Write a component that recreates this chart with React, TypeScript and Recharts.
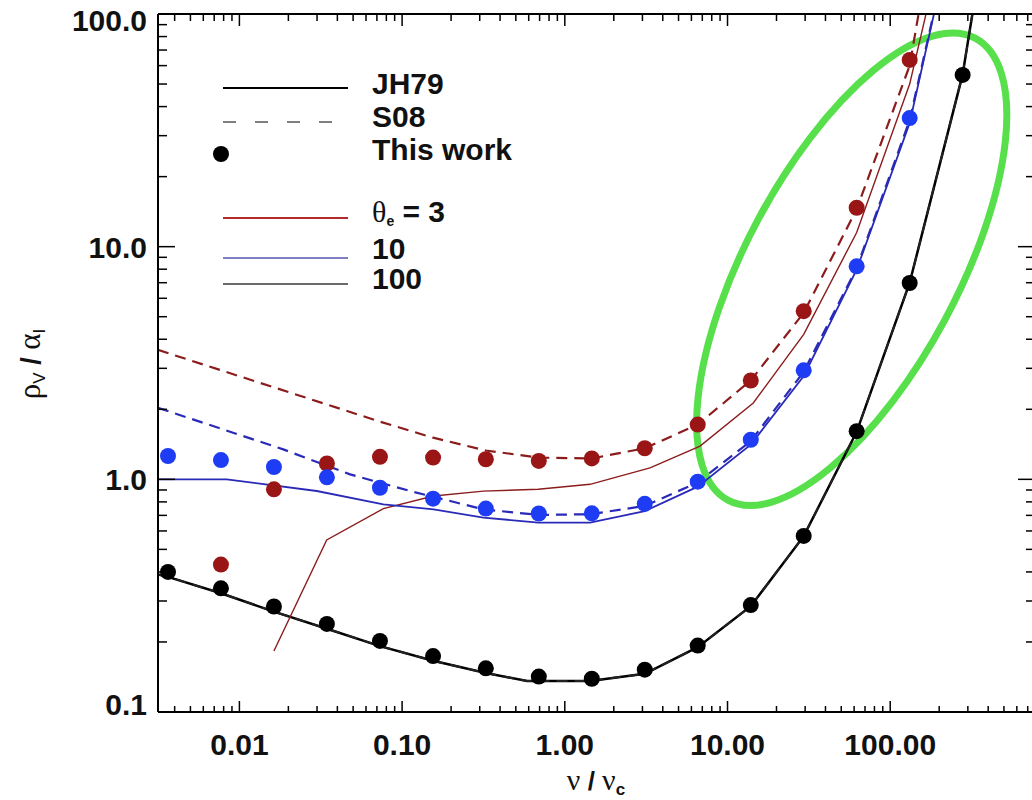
import { ComposedChart, Line, Scatter, XAxis, YAxis } from "recharts";

// axis ranges
const X_MIN = 0.00316;
const X_MAX = 776;
const Y_MIN = 0.1;
const Y_MAX = 100;

const X_MAJOR = [0.01, 0.1, 1, 10, 100];
const X_LABELS = ["0.01", "0.10", "1.00", "10.00", "100.00"];
const Y_MAJOR = [0.1, 1, 10, 100];
const Y_LABELS = ["0.1", "1.0", "10.0", "100.0"];

// "This work" points (nu / nu_c)
const NU_PTS = [0.00364, 0.0077, 0.0163, 0.0345, 0.0731, 0.155, 0.327, 0.692, 1.465, 3.1, 6.56, 13.9, 29.4, 62.2, 131.7, 278.7];
const DOTS_3 = [null, 0.43, 0.906, 1.17, 1.25, 1.24, 1.22, 1.2, 1.23, 1.36, 1.72, 2.66, 5.28, 14.7, 63.5, null];
const DOTS_10 = [1.26, 1.21, 1.13, 1.02, 0.92, 0.826, 0.749, 0.713, 0.714, 0.785, 0.977, 1.48, 2.94, 8.23, 35.7, null];
const DOTS_100 = [0.4, 0.34, 0.284, 0.239, 0.202, 0.174, 0.154, 0.142, 0.139, 0.152, 0.193, 0.288, 0.571, 1.61, 6.98, 54.7];

// JH79 / S08 curves
const JH79_3_NU = [0.0163, 0.0344, 0.0767, 0.156, 0.316, 0.687, 1.43, 3.34, 6.78, 14.4, 29.4, 62.2, 131.7, 190];
const JH79_3 = [0.183, 0.549, 0.748, 0.848, 0.89, 0.906, 0.952, 1.12, 1.39, 2.13, 4.2, 11.5, 50, 150];
const S08_3_NU = [0.00316, 0.0731, 0.155, 0.327, 0.692, 1.465, 3.1, 6.56, 13.9, 29.4, 62.2, 131.7, 165];
const S08_3 = [3.6, 1.77, 1.51, 1.33, 1.24, 1.23, 1.36, 1.72, 2.66, 5.2, 14.5, 60, 150];

const JH79_10_NU = [0.00316, 0.00836, 0.0299, 0.0767, 0.156, 0.316, 0.687, 1.43, 3.1, 6.56, 13.9, 29.4, 62.2, 131.7, 220];
const JH79_10 = [1.0, 1.0, 0.891, 0.781, 0.743, 0.685, 0.652, 0.652, 0.73, 0.93, 1.41, 2.78, 7.96, 34, 170];
const S08_10_NU = [0.00316, 0.0186, 0.0479, 0.112, 0.316, 0.687, 1.43, 3.1, 6.56, 13.9, 29.4, 62.2, 131.7, 220];
const S08_10 = [2.03, 1.345, 1.05, 0.891, 0.743, 0.703, 0.708, 0.768, 0.97, 1.46, 2.9, 8.1, 35, 172];

const JH79_100_NU = [0.00316, 0.00364, 0.0077, 0.0163, 0.0345, 0.0731, 0.155, 0.327, 0.586, 1.43, 3.1, 6.56, 13.9, 29.4, 62.2, 131.7, 278.7, 340];
const JH79_100 = [0.39, 0.381, 0.324, 0.27, 0.228, 0.192, 0.166, 0.147, 0.136, 0.136, 0.146, 0.19, 0.285, 0.57, 1.6, 7.0, 55, 130];
const S08_100 = [0.39, 0.381, 0.324, 0.27, 0.228, 0.192, 0.166, 0.147, 0.136, 0.136, 0.146, 0.19, 0.285, 0.57, 1.6, 7.0, 55, 130];

const RED = "#8b1c1c";
const RED_DOT = "#9a1616";
const BLUE = "#2a2ab8";
const BLUE_DOT = "#1d3cf4";
const GREEN = "#58e04c";
const SANS = "'Liberation Sans', Arial, Helvetica, sans-serif";
const SERIF = "'Liberation Serif', 'Times New Roman', serif";

// plot box in pixels (set by the axis sizes below)
const PLOT = { left: 158, right: 1035, top: 14, bottom: 712 };

const pts = (nu: number[], vals: (number | null)[]) =>
  nu.map((f, i) => ({ f, v: vals[i] })).filter((p) => p.v != null);

// log ticks: 1..9 per decade inside the range
const logTicks = (lo: number, hi: number) => {
  const out: number[] = [];
  for (let k = -4; k <= 3; k++)
    for (let m = 1; m <= 9; m++) {
      const v = Number((m * Math.pow(10, k)).toPrecision(6));
      if (v >= lo * 0.999 && v <= hi * 1.001) out.push(v);
    }
  return out;
};
const X_TICKS = logTicks(X_MIN, X_MAX);
const Y_TICKS = logTicks(Y_MIN, Y_MAX);

const majorIdx = (list: number[], v: number) =>
  list.findIndex((m) => Math.abs(Math.log10(m) - Math.log10(v)) < 1e-6);

const BottomTick = ({ x, y, payload }: any) => {
  const i = majorIdx(X_MAJOR, payload.value);
  return (
    <g>
      <line x1={x} y1={y} x2={x} y2={y - (i >= 0 ? 11 : 6)} stroke="#000" strokeWidth={1.5} />
      {i >= 0 && (
        <text x={x} y={y + 43} textAnchor="middle" fontFamily={SANS} fontWeight="bold" fontSize={30} fill="#111">
          {X_LABELS[i]}
        </text>
      )}
    </g>
  );
};

const TopTick = ({ x, y, payload }: any) => {
  const i = majorIdx(X_MAJOR, payload.value);
  return <line x1={x} y1={y} x2={x} y2={y + (i >= 0 ? 12 : 7)} stroke="#000" strokeWidth={1.5} />;
};

const LeftTick = ({ x, y, payload }: any) => {
  const i = majorIdx(Y_MAJOR, payload.value);
  let base = y + 11;
  if (i === Y_MAJOR.length - 1) base = y + 17;
  if (i === 0) base = y + 3;
  return (
    <g>
      <line x1={x} y1={y} x2={x + (i >= 0 ? 17 : 9)} y2={y} stroke="#000" strokeWidth={1.5} />
      {i >= 0 && (
        <text x={x - 11} y={base} textAnchor="end" fontFamily={SANS} fontWeight="bold" fontSize={30} fill="#111">
          {Y_LABELS[i]}
        </text>
      )}
    </g>
  );
};

const RightTick = ({ x, y, payload }: any) => {
  const i = majorIdx(Y_MAJOR, payload.value);
  return <line x1={x} y1={y} x2={x - (i >= 0 ? 17 : 9)} y2={y} stroke="#000" strokeWidth={1.5} />;
};

const dotShape = (fill: string) => (p: any) => <circle cx={p.cx} cy={p.cy} r={8} fill={fill} />;

// data -> pixel, only used to place the green ellipse annotation
const sx = (f: number) =>
  PLOT.left + ((Math.log10(f) - Math.log10(X_MIN)) / (Math.log10(X_MAX) - Math.log10(X_MIN))) * (PLOT.right - PLOT.left);
const sy = (v: number) =>
  PLOT.bottom - ((Math.log10(v) - Math.log10(Y_MIN)) / (Math.log10(Y_MAX) - Math.log10(Y_MIN))) * (PLOT.bottom - PLOT.top);

const Legend = () => {
  const x1 = 223;
  const x2 = 348;
  const tx = 372;
  const txt = { fontFamily: SANS, fontWeight: "bold" as const, fontSize: 30, fill: "#111" };
  return (
    <g>
      <line x1={x1} y1={88} x2={x2} y2={88} stroke="#000" strokeWidth={2} />
      <text x={tx} y={94} {...txt}>JH79</text>
      <line x1={x1} y1={122} x2={x2} y2={122} stroke="#555" strokeWidth={1.5} strokeDasharray="13 19" />
      <text x={tx} y={127} {...txt}>S08</text>
      <circle cx={221} cy={154} r={8} fill="#000" />
      <text x={tx} y={160} {...txt}>This work</text>
      <line x1={x1} y1={218} x2={x2} y2={218} stroke="#b22a2a" strokeWidth={2} />
      <text x={tx} y={222} {...txt}>
        <tspan fontFamily={SERIF} fontWeight="normal">θ</tspan>
        <tspan fontSize={14} dy={4}>e</tspan>
        <tspan dy={-4}> = 3</tspan>
      </text>
      <line x1={x1} y1={258} x2={x2} y2={258} stroke="#5454b0" strokeWidth={1.5} />
      <text x={tx} y={259} {...txt}>10</text>
      <line x1={x1} y1={284} x2={x2} y2={284} stroke="#6a6a6a" strokeWidth={2} />
      <text x={tx} y={289} {...txt}>100</text>
    </g>
  );
};

const Titles = () => (
  <g>
    <text x={596} y={790} textAnchor="middle" fill="#111" fontFamily={SERIF} fontSize={30}>
      ν<tspan fontFamily={SANS} fontWeight="bold" fontSize={26}> / </tspan>ν
      <tspan fontFamily={SANS} fontWeight="bold" fontSize={17} dy={5}>c</tspan>
    </text>
    <text transform="translate(40,364) rotate(-90)" textAnchor="middle" fill="#111" fontFamily={SERIF} fontSize={31}>
      ρ<tspan fontFamily={SANS} fontSize={17} dy={5}>V</tspan>
      <tspan fontFamily={SANS} fontWeight="bold" fontSize={27} dy={-5}> / </tspan>α
      <tspan fontFamily={SANS} fontSize={17} dy={5}>I</tspan>
    </text>
  </g>
);

export default function App() {
  return (
    <div style={{ position: "absolute", left: 0, top: 0, width: 1032, height: 800, overflow: "hidden", background: "#fff" }}>
      <ComposedChart width={1045} height={800} margin={{ top: 0, right: 0, bottom: 0, left: 0 }}>
        <XAxis
          dataKey="f"
          type="number"
          scale="log"
          domain={[X_MIN, X_MAX]}
          allowDataOverflow
          ticks={X_TICKS}
          interval={0}
          height={88}
          tickSize={0}
          tickMargin={0}
          tickLine={false}
          axisLine={{ stroke: "#000", strokeWidth: 2 }}
          tick={BottomTick}
        />
        <XAxis
          xAxisId="top"
          orientation="top"
          dataKey="f"
          type="number"
          scale="log"
          domain={[X_MIN, X_MAX]}
          allowDataOverflow
          ticks={X_TICKS}
          interval={0}
          height={14}
          tickSize={0}
          tickMargin={0}
          tickLine={false}
          axisLine={{ stroke: "#000", strokeWidth: 2 }}
          tick={TopTick}
        />
        <YAxis
          dataKey="v"
          type="number"
          scale="log"
          domain={[Y_MIN, Y_MAX]}
          allowDataOverflow
          ticks={Y_TICKS}
          interval={0}
          width={158}
          tickSize={0}
          tickMargin={0}
          tickLine={false}
          axisLine={{ stroke: "#000", strokeWidth: 2 }}
          tick={LeftTick}
        />
        <YAxis
          yAxisId="right"
          orientation="right"
          type="number"
          scale="log"
          domain={[Y_MIN, Y_MAX]}
          allowDataOverflow
          ticks={Y_TICKS}
          interval={0}
          width={10}
          tickSize={0}
          tickMargin={0}
          tickLine={false}
          axisLine={{ stroke: "#000", strokeWidth: 2 }}
          tick={RightTick}
        />

        <Line data={pts(JH79_100_NU, JH79_100)} dataKey="v" type="linear" stroke="#000" strokeWidth={2.5} dot={false} activeDot={false} isAnimationActive={false} />
        <Line data={pts(JH79_100_NU, S08_100)} dataKey="v" type="linear" stroke="#222" strokeWidth={2} strokeDasharray="11 7" dot={false} activeDot={false} isAnimationActive={false} />
        <Line data={pts(JH79_3_NU, JH79_3)} dataKey="v" type="linear" stroke={RED} strokeWidth={1.4} dot={false} activeDot={false} isAnimationActive={false} />
        <Line data={pts(S08_3_NU, S08_3)} dataKey="v" type="linear" stroke={RED} strokeWidth={2.2} strokeDasharray="11 7" dot={false} activeDot={false} isAnimationActive={false} />
        <Line data={pts(JH79_10_NU, JH79_10)} dataKey="v" type="linear" stroke={BLUE} strokeWidth={1.8} dot={false} activeDot={false} isAnimationActive={false} />
        <Line data={pts(S08_10_NU, S08_10)} dataKey="v" type="linear" stroke={BLUE} strokeWidth={2.2} strokeDasharray="11 7" dot={false} activeDot={false} isAnimationActive={false} />

        <Scatter data={pts(NU_PTS, DOTS_3)} dataKey="v" fill={RED_DOT} shape={dotShape(RED_DOT)} isAnimationActive={false} />
        <Scatter data={pts(NU_PTS, DOTS_10)} dataKey="v" fill={BLUE_DOT} shape={dotShape(BLUE_DOT)} isAnimationActive={false} />
        <Scatter data={pts(NU_PTS, DOTS_100)} dataKey="v" fill="#000" shape={dotShape("#000")} isAnimationActive={false} />

        <Legend />
        <Titles />
        <ellipse
          cx={sx(58)}
          cy={sy(8)}
          rx={262}
          ry={106}
          fill="none"
          stroke={GREEN}
          strokeWidth={7}
          transform={`rotate(-61.8 ${sx(58)} ${sy(8)})`}
        />
      </ComposedChart>
    </div>
  );
}
